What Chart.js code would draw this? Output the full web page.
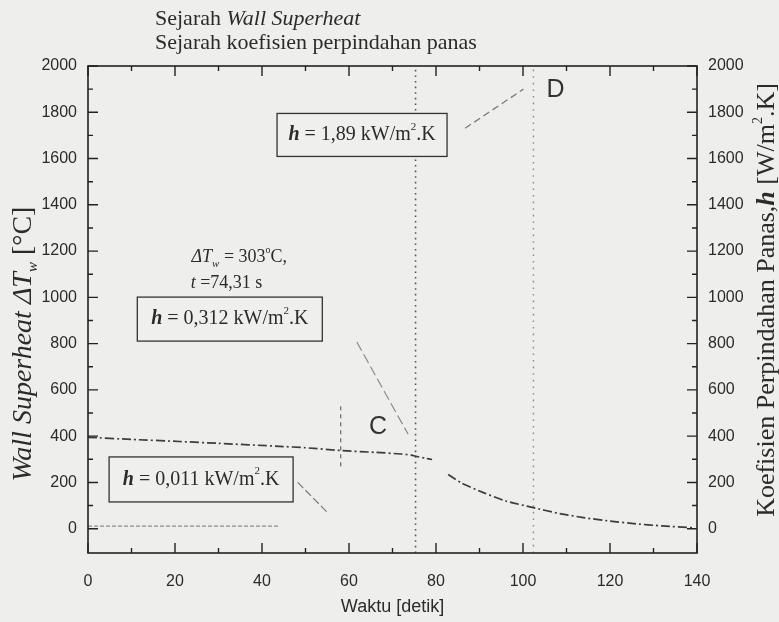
<!DOCTYPE html>
<html>
<head>
<meta charset="utf-8">
<script src="https://cdn.jsdelivr.net/npm/chart.js@4/dist/chart.umd.min.js"></script>
<style>
  html, body { margin: 0; padding: 0; background: #eeeeec; }
  #wrap { width: 779px; height: 622px; }
</style>
</head>
<body>
<div id="wrap"><canvas id="chart" width="779" height="622"></canvas></div>
<script>
// ---------- data ----------
// Wall superheat ΔTw [°C] vs waktu [detik]
const dtTime  = [0, 10, 21, 30, 44, 50, 58, 66, 72, 74.31, 75.6, 77.5, 79.1, 80.9, 82.8, 86, 90.9, 96, 102.4, 108, 113.9, 120, 125.5, 132, 139.3];
const dtValue = [395, 386, 377, 369, 356, 350, 338, 330, 323, 318, 312, 305, 299, null, 234, 196, 156, 120, 91, 67, 48, 33, 22, 12, 4];
// koefisien perpindahan panas h [W/m².K] (sumbu kanan)
const hTime  = [0, 11, 22, 33, 43.7];
const hValue = [11, 11, 11, 11, 11];
// garis titik-titik di titik C dan D
const markTimes = [75.3, 102.4];
// garis penunjuk
const leaderDTime = [86.7, 100.1],  leaderDValue = [1731, 1900];
const leaderCTime = [61.8, 73.6],   leaderCValue = [807, 408];
const leaderLoTime = [48.2, 55.1],  leaderLoValue = [200, 69];
const crossTime = [58.1, 58.1],     crossValue = [529, 269];
// sumbu
const xTicks = [0, 20, 40, 60, 80, 100, 120, 140];
const xMinor = [10, 30, 50, 70, 90, 110, 130];
const yTicks = [0, 200, 400, 600, 800, 1000, 1200, 1400, 1600, 1800, 2000];
const yMinor = [100, 300, 500, 700, 900, 1100, 1300, 1500, 1700, 1900];
const yMin = -105, yMax = 2000;

const pts = (ts, vs) => ts.map((t, i) => ({ x: t, y: vs[i] }));

const SERIF = '"Liberation Serif", "DejaVu Serif", serif';
const SANS = '"Liberation Sans", Arial, sans-serif';
const INK = '#2b2b2b';

// ---------- text helpers ----------
function runsWidth(ctx, runs) {
    let w = 0;
    runs.forEach(r => { ctx.font = r.font; w += ctx.measureText(r.text).width; });
    return w;
}
function drawRuns(ctx, runs, x, y, align) {
    const w = runsWidth(ctx, runs);
    let cx = align === 'center' ? x - w / 2 : (align === 'right' ? x - w : x);
    ctx.textBaseline = 'middle';
    ctx.textAlign = 'left';
    runs.forEach(r => {
        ctx.font = r.font;
        ctx.fillText(r.text, cx, y + (r.dy || 0));
        cx += ctx.measureText(r.text).width;
    });
    return w;
}
function hRuns(val) {
    return [
        { text: 'h', font: 'italic bold 20px ' + SERIF },
        { text: ' = ' + val + ' kW/m', font: '20px ' + SERIF },
        { text: '2', font: '11px ' + SERIF, dy: -8 },
        { text: '.K', font: '20px ' + SERIF }
    ];
}
function drawBox(ctx, runs, cx, cy, w, h) {
    ctx.save();
    ctx.fillStyle = '#efefed';
    ctx.fillRect(cx - w / 2, cy - h / 2, w, h);
    ctx.strokeStyle = '#333';
    ctx.lineWidth = 1.3;
    ctx.strokeRect(cx - w / 2, cy - h / 2, w, h);
    ctx.fillStyle = INK;
    drawRuns(ctx, runs, cx, cy, 'center');
    ctx.restore();
}

// ---------- plugin: background, frame, ticks, text ----------
const decor = {
    id: 'decor',
    beforeDraw(chart) {
        const c = chart.ctx;
        c.save();
        c.fillStyle = '#eeeeec';
        c.fillRect(0, 0, chart.width, chart.height);
        c.restore();
    },
    afterDraw(chart) {
        const c = chart.ctx;
        const a = chart.chartArea;
        const sx = chart.scales.x, sy = chart.scales.y;
        c.save();
        c.strokeStyle = '#222';
        c.lineWidth = 1.6;
        c.strokeRect(a.left, a.top, a.right - a.left, a.bottom - a.top);

        // tick marks pointing inward
        c.lineWidth = 1.4;
        const tickX = (v, len) => {
            const px = sx.getPixelForValue(v);
            c.beginPath();
            c.moveTo(px, a.bottom); c.lineTo(px, a.bottom - len);
            c.moveTo(px, a.top); c.lineTo(px, a.top + len);
            c.stroke();
        };
        const tickY = (v, len) => {
            const py = sy.getPixelForValue(v);
            c.beginPath();
            c.moveTo(a.left, py); c.lineTo(a.left + len, py);
            c.moveTo(a.right, py); c.lineTo(a.right - len, py);
            c.stroke();
        };
        xTicks.forEach(v => tickX(v, 10));
        xMinor.forEach(v => tickX(v, 5));
        yTicks.forEach(v => tickY(v, 10));
        yMinor.forEach(v => tickY(v, 5));

        c.fillStyle = INK;
        // judul (legenda) di atas
        drawRuns(c, [
            { text: 'Sejarah ', font: '22px ' + SERIF },
            { text: 'Wall Superheat', font: 'italic 22px ' + SERIF }
        ], 155, 19, 'left');
        drawRuns(c, [{ text: 'Sejarah koefisien perpindahan panas', font: '22px ' + SERIF }], 155, 43, 'left');

        // label sumbu x
        drawRuns(c, [{ text: 'Waktu [detik]', font: '18px ' + SANS }], (a.left + a.right) / 2, 607, 'center');

        // label sumbu kiri
        c.save();
        c.translate(24, 344);
        c.rotate(-Math.PI / 2);
        drawRuns(c, [
            { text: 'Wall Superheat ', font: 'italic 28px ' + SERIF },
            { text: 'ΔT', font: 'italic 28px ' + SERIF },
            { text: 'w', font: 'italic 15px ' + SERIF, dy: 9 },
            { text: ' [°C]', font: '28px ' + SERIF }
        ], 0, 0, 'center');
        c.restore();

        // label sumbu kanan
        c.save();
        c.translate(767, 300);
        c.rotate(-Math.PI / 2);
        drawRuns(c, [
            { text: 'Koefisien Perpindahan Panas,', font: '26px ' + SERIF },
            { text: 'h', font: 'italic bold 26px ' + SERIF },
            { text: ' [W/m', font: '26px ' + SERIF },
            { text: '2', font: '14px ' + SERIF, dy: -9 },
            { text: '.K]', font: '26px ' + SERIF }
        ], 0, 0, 'center');
        c.restore();

        // anotasi
        const X = v => sx.getPixelForValue(v), Y = v => sy.getPixelForValue(v);
        drawBox(c, hRuns('1,89'), X(63.0), Y(1702), 170, 43);
        drawBox(c, hRuns('0,312'), X(32.6), Y(906), 185, 44);
        drawBox(c, hRuns('0,011'), X(26.0), Y(213), 184, 45);

        c.fillStyle = INK;
        drawRuns(c, [
            { text: 'ΔT', font: 'italic 18px ' + SERIF },
            { text: 'w', font: 'italic 11px ' + SERIF, dy: 7 },
            { text: ' = 303', font: '18px ' + SERIF },
            { text: 'o', font: '10px ' + SERIF, dy: -7 },
            { text: 'C,', font: '18px ' + SERIF }
        ], X(23.8), Y(1172), 'left');
        drawRuns(c, [
            { text: 't', font: 'italic 18px ' + SERIF },
            { text: ' =74,31 s', font: '18px ' + SERIF }
        ], X(23.6), Y(1063), 'left');

        c.fillStyle = '#333';
        drawRuns(c, [{ text: 'D', font: '25px ' + SANS }], X(107.5), Y(1896), 'center');
        drawRuns(c, [{ text: 'C', font: '25px ' + SANS }], X(66.7), Y(440), 'center');
        c.restore();
    }
};

// ---------- chart ----------
const ctx = document.getElementById('chart');
Chart.defaults.font.family = SANS;
Chart.defaults.color = INK;

const lineBase = { pointRadius: 0, fill: false, tension: 0, spanGaps: false };
const plain = v => String(v);

new Chart(ctx, {
    type: 'line',
    data: {
        datasets: [
            Object.assign({}, lineBase, {
                label: 'Sejarah Wall Superheat',
                data: pts(dtTime, dtValue),
                borderColor: '#3c3c3c', borderWidth: 1.7,
                borderDash: [9, 3, 2, 3], tension: 0.2, yAxisID: 'y'
            }),
            Object.assign({}, lineBase, {
                label: 'Sejarah koefisien perpindahan panas',
                data: pts(hTime, hValue),
                borderColor: '#8c8c8c', borderWidth: 1.3,
                borderDash: [4, 2], yAxisID: 'y2'
            }),
            Object.assign({}, lineBase, {
                label: 'C',
                data: pts([markTimes[0], markTimes[0]], [yMin, yMax]),
                borderColor: '#555', borderWidth: 1.6, borderDash: [1.6, 4], yAxisID: 'y'
            }),
            Object.assign({}, lineBase, {
                label: 'D',
                data: pts([markTimes[1], markTimes[1]], [yMin, yMax]),
                borderColor: '#8a8a8a', borderWidth: 1.4, borderDash: [1.6, 5], yAxisID: 'y'
            }),
            Object.assign({}, lineBase, {
                label: 'penunjuk D',
                data: pts(leaderDTime, leaderDValue),
                borderColor: '#7a7a7a', borderWidth: 1.3, borderDash: [7, 4], yAxisID: 'y'
            }),
            Object.assign({}, lineBase, {
                label: 'penunjuk C',
                data: pts(leaderCTime, leaderCValue),
                borderColor: '#8a8a8a', borderWidth: 1.2, borderDash: [10, 4], yAxisID: 'y'
            }),
            Object.assign({}, lineBase, {
                label: 'penunjuk h',
                data: pts(leaderLoTime, leaderLoValue),
                borderColor: '#777', borderWidth: 1.2, borderDash: [8, 3], yAxisID: 'y'
            }),
            Object.assign({}, lineBase, {
                label: 'silang',
                data: pts(crossTime, crossValue),
                borderColor: '#666', borderWidth: 1.2, borderDash: [4, 4], yAxisID: 'y'
            })
        ]
    },
    options: {
        responsive: false,
        animation: false,
        layout: { padding: { top: 66, left: 0, right: 0, bottom: 0 } },
        plugins: { legend: { display: false }, tooltip: { enabled: false } },
        scales: {
            x: {
                type: 'linear', min: 0, max: 140,
                grid: { display: false, drawTicks: false },
                border: { display: false },
                afterBuildTicks: s => { s.ticks = xTicks.map(v => ({ value: v })); },
                afterFit: s => { s.height = 69; },
                ticks: { font: { size: 16 }, padding: 19, color: INK, callback: plain }
            },
            y: {
                type: 'linear', position: 'left', min: yMin, max: yMax,
                grid: { display: false, drawTicks: false },
                border: { display: false },
                afterBuildTicks: s => { s.ticks = yTicks.map(v => ({ value: v })); },
                afterFit: s => { s.width = 88; },
                ticks: { font: { size: 16 }, padding: 11, color: INK, callback: plain }
            },
            y2: {
                type: 'linear', position: 'right', min: yMin, max: yMax,
                grid: { display: false, drawTicks: false },
                border: { display: false },
                afterBuildTicks: s => { s.ticks = yTicks.map(v => ({ value: v })); },
                afterFit: s => { s.width = 82; },
                ticks: { font: { size: 16 }, padding: 11, color: INK, callback: plain }
            }
        }
    },
    plugins: [decor]
});
</script>
</body>
</html>
